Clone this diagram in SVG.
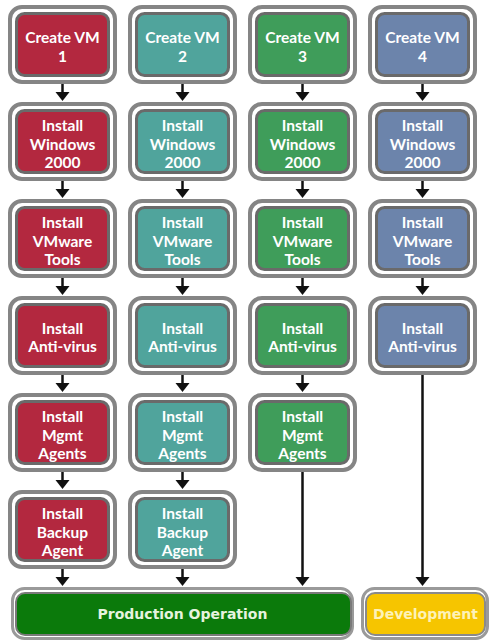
<svg xmlns="http://www.w3.org/2000/svg" width="490" height="642" viewBox="0 0 490 642">
<defs>
<style>
.o{fill:#fff;stroke:#858585;stroke-width:4}
.i{stroke:#6a6a6a;stroke-width:3}
.c1{fill:#b3283f}.c2{fill:#50a49c}.c3{fill:#3f9d5a}.c4{fill:#6c84ab}
.t{font-family:Lato,"Open Sans","Liberation Sans",sans-serif;font-weight:bold;font-size:15.5px;fill:#fff;text-anchor:middle}
.b{font-family:"DejaVu Sans",Verdana,sans-serif;font-weight:bold;font-size:14px;text-anchor:middle}
.ln{stroke:#111;stroke-width:2.5;fill:none}
.ah{fill:#111}
</style>
</defs>
<rect width="490" height="642" fill="#fff"/>

<g id="connectors">
<line class="ln" x1="62.5" y1="84" x2="62.5" y2="93"/><path class="ah" d="M55.5,92 L69.5,92 L62.5,101 Z"/>
<line class="ln" x1="62.5" y1="181" x2="62.5" y2="190"/><path class="ah" d="M55.5,189 L69.5,189 L62.5,198 Z"/>
<line class="ln" x1="62.5" y1="278" x2="62.5" y2="287"/><path class="ah" d="M55.5,286 L69.5,286 L62.5,295 Z"/>
<line class="ln" x1="62.5" y1="375" x2="62.5" y2="384"/><path class="ah" d="M55.5,383 L69.5,383 L62.5,392 Z"/>
<line class="ln" x1="62.5" y1="472" x2="62.5" y2="481"/><path class="ah" d="M55.5,480 L69.5,480 L62.5,489 Z"/>
<line class="ln" x1="62.5" y1="569" x2="62.5" y2="578"/><path class="ah" d="M55.5,577 L69.5,577 L62.5,586 Z"/>
<line class="ln" x1="182.5" y1="84" x2="182.5" y2="93"/><path class="ah" d="M175.5,92 L189.5,92 L182.5,101 Z"/>
<line class="ln" x1="182.5" y1="181" x2="182.5" y2="190"/><path class="ah" d="M175.5,189 L189.5,189 L182.5,198 Z"/>
<line class="ln" x1="182.5" y1="278" x2="182.5" y2="287"/><path class="ah" d="M175.5,286 L189.5,286 L182.5,295 Z"/>
<line class="ln" x1="182.5" y1="375" x2="182.5" y2="384"/><path class="ah" d="M175.5,383 L189.5,383 L182.5,392 Z"/>
<line class="ln" x1="182.5" y1="472" x2="182.5" y2="481"/><path class="ah" d="M175.5,480 L189.5,480 L182.5,489 Z"/>
<line class="ln" x1="182.5" y1="569" x2="182.5" y2="578"/><path class="ah" d="M175.5,577 L189.5,577 L182.5,586 Z"/>
<line class="ln" x1="302.5" y1="84" x2="302.5" y2="93"/><path class="ah" d="M295.5,92 L309.5,92 L302.5,101 Z"/>
<line class="ln" x1="302.5" y1="181" x2="302.5" y2="190"/><path class="ah" d="M295.5,189 L309.5,189 L302.5,198 Z"/>
<line class="ln" x1="302.5" y1="278" x2="302.5" y2="287"/><path class="ah" d="M295.5,286 L309.5,286 L302.5,295 Z"/>
<line class="ln" x1="302.5" y1="375" x2="302.5" y2="384"/><path class="ah" d="M295.5,383 L309.5,383 L302.5,392 Z"/>
<line class="ln" x1="302.5" y1="472" x2="302.5" y2="578" stroke-width="2"/><path class="ah" d="M295.5,577 L309.5,577 L302.5,586 Z"/>
<line class="ln" x1="422.5" y1="84" x2="422.5" y2="93"/><path class="ah" d="M415.5,92 L429.5,92 L422.5,101 Z"/>
<line class="ln" x1="422.5" y1="181" x2="422.5" y2="190"/><path class="ah" d="M415.5,189 L429.5,189 L422.5,198 Z"/>
<line class="ln" x1="422.5" y1="278" x2="422.5" y2="287"/><path class="ah" d="M415.5,286 L429.5,286 L422.5,295 Z"/>
<line class="ln" x1="422.5" y1="375" x2="422.5" y2="578" stroke-width="2"/><path class="ah" d="M415.5,577 L429.5,577 L422.5,586 Z"/>
</g>

<g id="vm1-create"><rect class="o" x="10" y="7" width="105" height="75" rx="12"/><rect class="i c1" x="16.5" y="13.5" width="92" height="62" rx="8"/><text class="t" x="62.5" y="43">Create VM</text><text class="t" x="62.5" y="62">1</text></g>
<g id="vm1-windows"><rect class="o" x="10" y="104" width="105" height="75" rx="12"/><rect class="i c1" x="16.5" y="110.5" width="92" height="62" rx="8"/><text class="t" x="62.5" y="131">Install</text><text class="t" x="62.5" y="149.5">Windows</text><text class="t" x="62.5" y="168">2000</text></g>
<g id="vm1-tools"><rect class="o" x="10" y="201" width="105" height="75" rx="12"/><rect class="i c1" x="16.5" y="207.5" width="92" height="62" rx="8"/><text class="t" x="62.5" y="228">Install</text><text class="t" x="62.5" y="246.5">VMware</text><text class="t" x="62.5" y="265">Tools</text></g>
<g id="vm1-av"><rect class="o" x="10" y="298" width="105" height="75" rx="12"/><rect class="i c1" x="16.5" y="304.5" width="92" height="62" rx="8"/><text class="t" x="62.5" y="333.5">Install</text><text class="t" x="62.5" y="352">Anti-virus</text></g>
<g id="vm1-mgmt"><rect class="o" x="10" y="395" width="105" height="75" rx="12"/><rect class="i c1" x="16.5" y="401.5" width="92" height="62" rx="8"/><text class="t" x="62.5" y="422">Install</text><text class="t" x="62.5" y="440.5">Mgmt</text><text class="t" x="62.5" y="459">Agents</text></g>
<g id="vm1-backup"><rect class="o" x="10" y="492" width="105" height="75" rx="12"/><rect class="i c1" x="16.5" y="498.5" width="92" height="62" rx="8"/><text class="t" x="62.5" y="519">Install</text><text class="t" x="62.5" y="537.5">Backup</text><text class="t" x="62.5" y="556">Agent</text></g>

<g id="vm2-create"><rect class="o" x="130" y="7" width="105" height="75" rx="12"/><rect class="i c2" x="136.5" y="13.5" width="92" height="62" rx="8"/><text class="t" x="182.5" y="43">Create VM</text><text class="t" x="182.5" y="62">2</text></g>
<g id="vm2-windows"><rect class="o" x="130" y="104" width="105" height="75" rx="12"/><rect class="i c2" x="136.5" y="110.5" width="92" height="62" rx="8"/><text class="t" x="182.5" y="131">Install</text><text class="t" x="182.5" y="149.5">Windows</text><text class="t" x="182.5" y="168">2000</text></g>
<g id="vm2-tools"><rect class="o" x="130" y="201" width="105" height="75" rx="12"/><rect class="i c2" x="136.5" y="207.5" width="92" height="62" rx="8"/><text class="t" x="182.5" y="228">Install</text><text class="t" x="182.5" y="246.5">VMware</text><text class="t" x="182.5" y="265">Tools</text></g>
<g id="vm2-av"><rect class="o" x="130" y="298" width="105" height="75" rx="12"/><rect class="i c2" x="136.5" y="304.5" width="92" height="62" rx="8"/><text class="t" x="182.5" y="333.5">Install</text><text class="t" x="182.5" y="352">Anti-virus</text></g>
<g id="vm2-mgmt"><rect class="o" x="130" y="395" width="105" height="75" rx="12"/><rect class="i c2" x="136.5" y="401.5" width="92" height="62" rx="8"/><text class="t" x="182.5" y="422">Install</text><text class="t" x="182.5" y="440.5">Mgmt</text><text class="t" x="182.5" y="459">Agents</text></g>
<g id="vm2-backup"><rect class="o" x="130" y="492" width="105" height="75" rx="12"/><rect class="i c2" x="136.5" y="498.5" width="92" height="62" rx="8"/><text class="t" x="182.5" y="519">Install</text><text class="t" x="182.5" y="537.5">Backup</text><text class="t" x="182.5" y="556">Agent</text></g>

<g id="vm3-create"><rect class="o" x="250" y="7" width="105" height="75" rx="12"/><rect class="i c3" x="256.5" y="13.5" width="92" height="62" rx="8"/><text class="t" x="302.5" y="43">Create VM</text><text class="t" x="302.5" y="62">3</text></g>
<g id="vm3-windows"><rect class="o" x="250" y="104" width="105" height="75" rx="12"/><rect class="i c3" x="256.5" y="110.5" width="92" height="62" rx="8"/><text class="t" x="302.5" y="131">Install</text><text class="t" x="302.5" y="149.5">Windows</text><text class="t" x="302.5" y="168">2000</text></g>
<g id="vm3-tools"><rect class="o" x="250" y="201" width="105" height="75" rx="12"/><rect class="i c3" x="256.5" y="207.5" width="92" height="62" rx="8"/><text class="t" x="302.5" y="228">Install</text><text class="t" x="302.5" y="246.5">VMware</text><text class="t" x="302.5" y="265">Tools</text></g>
<g id="vm3-av"><rect class="o" x="250" y="298" width="105" height="75" rx="12"/><rect class="i c3" x="256.5" y="304.5" width="92" height="62" rx="8"/><text class="t" x="302.5" y="333.5">Install</text><text class="t" x="302.5" y="352">Anti-virus</text></g>
<g id="vm3-mgmt"><rect class="o" x="250" y="395" width="105" height="75" rx="12"/><rect class="i c3" x="256.5" y="401.5" width="92" height="62" rx="8"/><text class="t" x="302.5" y="422">Install</text><text class="t" x="302.5" y="440.5">Mgmt</text><text class="t" x="302.5" y="459">Agents</text></g>

<g id="vm4-create"><rect class="o" x="370" y="7" width="105" height="75" rx="12"/><rect class="i c4" x="376.5" y="13.5" width="92" height="62" rx="8"/><text class="t" x="422.5" y="43">Create VM</text><text class="t" x="422.5" y="62">4</text></g>
<g id="vm4-windows"><rect class="o" x="370" y="104" width="105" height="75" rx="12"/><rect class="i c4" x="376.5" y="110.5" width="92" height="62" rx="8"/><text class="t" x="422.5" y="131">Install</text><text class="t" x="422.5" y="149.5">Windows</text><text class="t" x="422.5" y="168">2000</text></g>
<g id="vm4-tools"><rect class="o" x="370" y="201" width="105" height="75" rx="12"/><rect class="i c4" x="376.5" y="207.5" width="92" height="62" rx="8"/><text class="t" x="422.5" y="228">Install</text><text class="t" x="422.5" y="246.5">VMware</text><text class="t" x="422.5" y="265">Tools</text></g>
<g id="vm4-av"><rect class="o" x="370" y="298" width="105" height="75" rx="12"/><rect class="i c4" x="376.5" y="304.5" width="92" height="62" rx="8"/><text class="t" x="422.5" y="333.5">Install</text><text class="t" x="422.5" y="352">Anti-virus</text></g>

<g id="production"><rect x="12.5" y="588.5" width="340" height="50" rx="12" fill="#fff" stroke="#9a9a9a" stroke-width="3"/><rect x="16" y="593" width="335" height="42" rx="9" fill="#0b7a0b" stroke="#7a7a7a" stroke-width="2"/><text class="b" x="182.5" y="618.5" fill="#e6f3df">Production Operation</text></g>
<g id="development"><rect x="362.5" y="588.5" width="125" height="50" rx="12" fill="#fff" stroke="#9a9a9a" stroke-width="3"/><rect x="366" y="593" width="119" height="42" rx="9" fill="#f6c500" stroke="#8a8a8a" stroke-width="2"/><text class="b" x="425.5" y="618.5" fill="#fdf2b8">Development</text></g>
</svg>
